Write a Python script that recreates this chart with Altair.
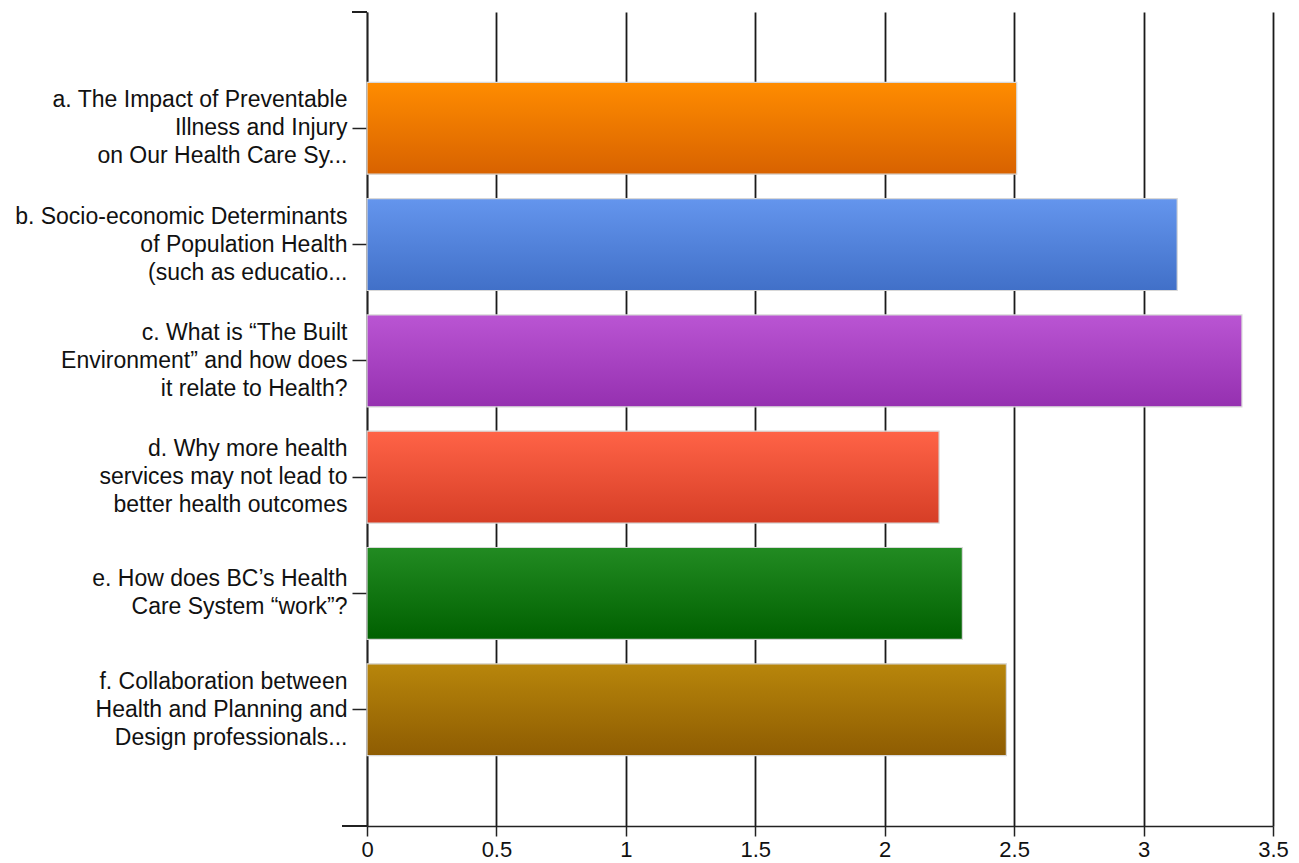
import altair as alt
import pandas as pd

# Survey topics (label lines) and their mean ratings
label_lines = [
    ["a. The Impact of Preventable", "Illness and Injury", "on Our Health Care Sy..."],
    ["b. Socio-economic Determinants", "of Population Health", "(such as educatio..."],
    ["c. What is \u201cThe Built", "Environment\u201d and how does", "it relate to Health?"],
    ["d. Why more health", "services may not lead to", "better health outcomes"],
    ["e. How does BC\u2019s Health", "Care System \u201cwork\u201d?"],
    ["f. Collaboration between", "Health and Planning and", "Design professionals..."],
]
scores = [2.51, 3.13, 3.38, 2.21, 2.30, 2.47]
top_colors = ["#FF8C00", "#6495ED", "#BA55D3", "#FF6347", "#228B22", "#B8860B"]
bottom_colors = ["#D86200", "#4170C8", "#9530B0", "#D63E26", "#006000", "#8E5C02"]
x_ticks = [0, 0.5, 1, 1.5, 2, 2.5, 3, 3.5]

topics = ["|".join(lines) for lines in label_lines]
df = pd.DataFrame({"topic": topics, "score": scores})

W, H = 906, 814
FONT = "Liberation Sans"
LINE_H = 28

y_enc = alt.Y(
    "topic:N",
    sort=topics,
    scale=alt.Scale(domain=topics, paddingInner=0.21, paddingOuter=0.605),
    axis=alt.Axis(
        title=None,
        labelExpr="split(datum.label, '|')",
        labelFont=FONT,
        labelFontSize=23,
        labelLineHeight=LINE_H,
        labelBaseline="middle",
        labelOffset={
            "condition": {
                "test": "length(split(datum.label, '|')) == 2",
                "value": -LINE_H / 2,
            },
            "value": -LINE_H,
        },
        labelColor="#111111",
        labelLimit=400,
        labelPadding=5,
        tickSize=15,
        tickColor="#222222",
        tickWidth=1.5,
        domainColor="#222222",
        domainWidth=1.5,
        grid=False,
    ),
)
x_enc = alt.X(
    "score:Q",
    scale=alt.Scale(domain=[0, 3.5], nice=False),
    axis=alt.Axis(
        title=None,
        values=x_ticks,
        format="~g",
        labelFont=FONT,
        labelFontSize=22,
        labelFlush=False,
        labelColor="#111111",
        labelPadding=3,
        tickSize=10,
        tickColor="#222222",
        tickWidth=1.5,
        domainColor="#222222",
        domainWidth=1.5,
        grid=True,
        gridColor="#1a1a1a",
        gridWidth=1.8,
        gridOpacity=1,
    ),
)

base = alt.Chart(df)
layers = []
for key, c0, c1 in zip(topics, top_colors, bottom_colors):
    grad = alt.Gradient(
        gradient="linear",
        stops=[alt.GradientStop(color=c0, offset=0), alt.GradientStop(color=c1, offset=1)],
        x1=0, x2=0, y1=0, y2=1,
    )
    layers.append(
        base.transform_filter(alt.datum.topic == key)
        .mark_bar(color=grad, stroke="#d8d8d8", strokeWidth=1.2)
        .encode(x=x_enc, y=y_enc)
    )

# small axis details: top tick on the y axis and left stub of the x axis
top_tick = base.mark_rule(color="#222222", strokeWidth=1.5).encode(
    x=alt.value(-15), x2=alt.value(0), y=alt.value(0)
)
x_stub = base.mark_rule(color="#222222", strokeWidth=1.5).encode(
    x=alt.value(-25), x2=alt.value(0), y=alt.value(H)
)

chart = (
    alt.layer(*layers, top_tick, x_stub)
    .properties(
        width=W,
        height=H,
        autosize=alt.AutoSizeParams(type="none"),
        padding={"left": 367, "top": 12, "right": 26, "bottom": 37},
        background="white",
    )
    .configure_view(stroke=None)
)

chart.save("out.html", embed_options={"renderer": "svg", "actions": False})
